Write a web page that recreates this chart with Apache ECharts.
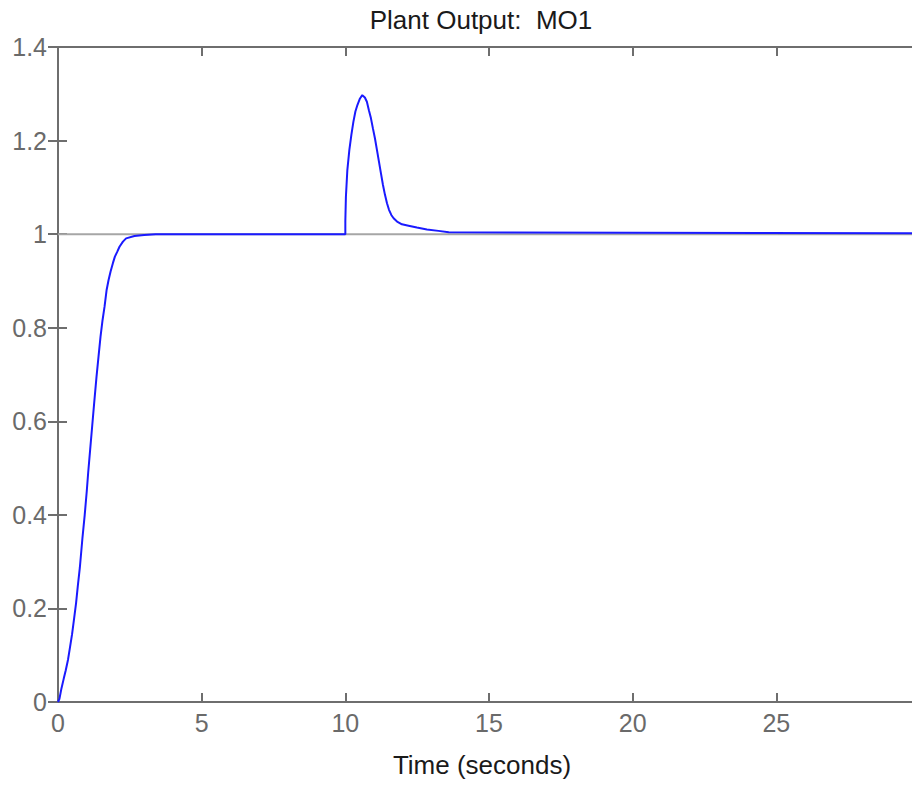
<!DOCTYPE html>
<html>
<head>
<meta charset="utf-8">
<script src="https://cdn.jsdelivr.net/npm/echarts@6/dist/echarts.min.js"></script>
<style>
  html, body { margin: 0; padding: 0; background: #ffffff; }
  #chart { width: 912px; height: 785px; }
</style>
</head>
<body>
<div id="chart"></div>
<script>
// Plant output response (seconds vs. output)
const timeSeconds = [
  0, 0.05, 0.12, 0.2, 0.27, 0.35, 0.42, 0.49, 0.56, 0.63,
  0.69, 0.76, 0.85, 0.93, 1.0, 1.05, 1.12, 1.19, 1.26, 1.34,
  1.41, 1.48, 1.55, 1.62, 1.69, 1.76, 1.83, 1.91, 1.98, 2.06,
  2.14, 2.26, 2.37, 2.66, 3.0, 3.4, 10.0, 10.0, 10.02, 10.07,
  10.14, 10.21, 10.28, 10.35, 10.42, 10.51, 10.59, 10.68, 10.75, 10.82,
  10.89, 10.96, 11.03, 11.1, 11.17, 11.24, 11.31, 11.38, 11.45, 11.52,
  11.6, 11.68, 11.8, 11.97, 12.2, 12.49, 12.84, 13.24, 13.6, 20,
  30
];
const plantOutput = [
  0, 0.007, 0.029, 0.05, 0.068, 0.091, 0.118, 0.145, 0.178, 0.212,
  0.248, 0.287, 0.35, 0.40, 0.45, 0.49, 0.54, 0.59, 0.64, 0.695,
  0.738, 0.781, 0.816, 0.845, 0.88, 0.902, 0.92, 0.938, 0.952, 0.962,
  0.973, 0.984, 0.991, 0.996, 0.998, 1.0, 1.0, 1.028, 1.08, 1.137,
  1.18, 1.212, 1.24, 1.262, 1.276, 1.29, 1.297, 1.292, 1.283, 1.265,
  1.248, 1.226, 1.205, 1.18, 1.155, 1.13, 1.105, 1.084, 1.066, 1.052,
  1.041, 1.034, 1.027, 1.021, 1.018, 1.014, 1.01, 1.007, 1.004, 1.003,
  1.002
];
// Setpoint (reference) signal
const setpointTime = [0, 30];
const setpointValue = [1, 1];

const xTicks = [0, 5, 10, 15, 20, 25];
const yTicks = [0, 0.2, 0.4, 0.6, 0.8, 1, 1.2, 1.4];

const titleText = 'Plant Output:  MO1';
const xLabelText = 'Time (seconds)';

const FONT = 'Liberation Sans, Arial, sans-serif';
const AXIS_COLOR = '#6e6e6e';

const pairs = (xs, ys) => xs.map((x, i) => [x, ys[i]]);

const chart = echarts.init(document.getElementById('chart'), null, { renderer: 'svg' });

const baseX = {
  type: 'value', min: 0, max: 30, interval: 5,
  axisLine: { show: true, onZero: false, lineStyle: { color: AXIS_COLOR, width: 2 } },
  axisTick: { show: true, inside: true, length: 9, lineStyle: { color: AXIS_COLOR, width: 2 } },
  splitLine: { show: false }
};
const baseY = {
  type: 'value', min: 0, max: 1.4, interval: 0.2,
  axisLine: { show: true, onZero: false, lineStyle: { color: AXIS_COLOR, width: 2 } },
  axisTick: { show: true, inside: true, length: 9, lineStyle: { color: AXIS_COLOR, width: 2 } },
  splitLine: { show: false }
};

chart.setOption({
  animation: false,
  backgroundColor: '#ffffff',
  grid: [
    // main plotting area (right border lies just past the canvas edge)
    { left: 58, right: -8, top: 47, bottom: 83, containLabel: false, outerBoundsMode: 'none' },
    // frame for the right-hand tick marks
    { left: 58, width: 855, top: 47, bottom: 83, containLabel: false, outerBoundsMode: 'none' }
  ],
  xAxis: [
    Object.assign({}, baseX, {
      gridIndex: 0, position: 'bottom',
      axisLabel: {
        show: true, color: '#6a6a6a', fontFamily: FONT, fontSize: 25, margin: 8,
        formatter: v => (xTicks.indexOf(v) >= 0 ? String(v) : '')
      }
    }),
    Object.assign({}, baseX, { gridIndex: 0, position: 'top', axisLabel: { show: false } }),
    Object.assign({}, baseX, {
      gridIndex: 1, show: false
    })
  ],
  yAxis: [
    Object.assign({}, baseY, {
      gridIndex: 0, position: 'left',
      axisLabel: {
        show: true, color: '#6a6a6a', fontFamily: FONT, fontSize: 25, margin: 11,
        formatter: v => {
          const t = yTicks.find(k => Math.abs(k - v) < 1e-9);
          return t === undefined ? '' : String(t);
        }
      }
    }),
    Object.assign({}, baseY, {
      gridIndex: 1, position: 'right',
      axisLine: { show: false },
      axisTick: { show: true, inside: true, length: 10, lineStyle: { color: AXIS_COLOR, width: 2 } },
      axisLabel: { show: false }
    })
  ],
  graphic: [
    {
      type: 'text', x: 481, y: 20, silent: true,
      style: { text: titleText, fill: '#1a1a1a', font: '26px ' + FONT, align: 'center', verticalAlign: 'middle' }
    },
    {
      type: 'text', x: 482, y: 765, silent: true,
      style: { text: xLabelText, fill: '#1a1a1a', font: '26px ' + FONT, align: 'center', verticalAlign: 'middle' }
    }
  ],
  series: [
    {
      name: 'Setpoint', type: 'line', xAxisIndex: 0, yAxisIndex: 0,
      data: pairs(setpointTime, setpointValue),
      showSymbol: false, symbol: 'none', z: 1,
      lineStyle: { color: '#a6a6a6', width: 2 }
    },
    {
      name: 'MO1', type: 'line', xAxisIndex: 0, yAxisIndex: 0,
      data: pairs(timeSeconds, plantOutput),
      showSymbol: false, symbol: 'none', z: 2,
      lineStyle: { color: '#1a1aff', width: 2 }
    }
  ]
});
</script>
</body>
</html>
